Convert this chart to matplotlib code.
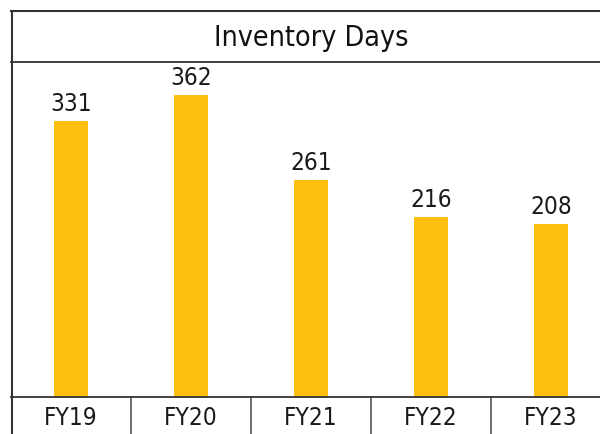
import matplotlib.pyplot as plt
from matplotlib.lines import Line2D

categories = ["FY19", "FY20", "FY21", "FY22", "FY23"]
days = [331, 362, 261, 216, 208]

W, H = 600, 434
fig = plt.figure(figsize=(W / 100, H / 100), dpi=100)
plt.rcParams['font.family'] = ['DejaVu Sans']

# plot area in pixels: x 11..611, y 62..397 (from top)
ax = fig.add_axes([11 / W, (H - 397) / H, 600 / W, (397 - 62) / H])
x = range(len(categories))
ax.bar(x, days, width=0.283, color="#FDBF10")
ax.set_xlim(-0.5, len(categories) - 0.5)
ax.set_ylim(0, 402)

for i, v in enumerate(days):
    ax.annotate(str(v), (i, v), xytext=(0, 3.5), textcoords="offset points",
                ha="center", va="bottom", fontsize=17.5, color="#1a1a1a",
                fontstretch="condensed")

for i, c in enumerate(categories):
    ax.text(i, -21 / 335, c, transform=ax.get_xaxis_transform(), ha="center",
            va="center", fontsize=17.5, color="#1a1a1a", fontstretch="condensed")

# dividers between category cells
ax.vlines([i + 0.5 for i in range(len(categories) - 1)], -37 / 335, 0,
          transform=ax.get_xaxis_transform(), colors="#555555", lw=1.2,
          clip_on=False)

ax.set_xticks([])
ax.set_yticks([])
for s in ["top", "bottom"]:
    ax.spines[s].set_color("#333333")
    ax.spines[s].set_linewidth(1.3)
ax.spines["left"].set_visible(False)
ax.spines["right"].set_visible(False)

# outer frame: top border and left border
fig.add_artist(Line2D([11 / W, 1], [1 - 10.5 / H, 1 - 10.5 / H], color="#333333", lw=1.5))
fig.add_artist(Line2D([11.5 / W, 11.5 / W], [0, 1 - 10.5 / H], color="#333333", lw=1.5))

fig.text(311 / W, 1 - 38 / H, "Inventory Days", ha="center", va="center",
         fontsize=20.5, color="#111111", fontstretch="condensed")

plt.savefig("out.png", dpi=100)
